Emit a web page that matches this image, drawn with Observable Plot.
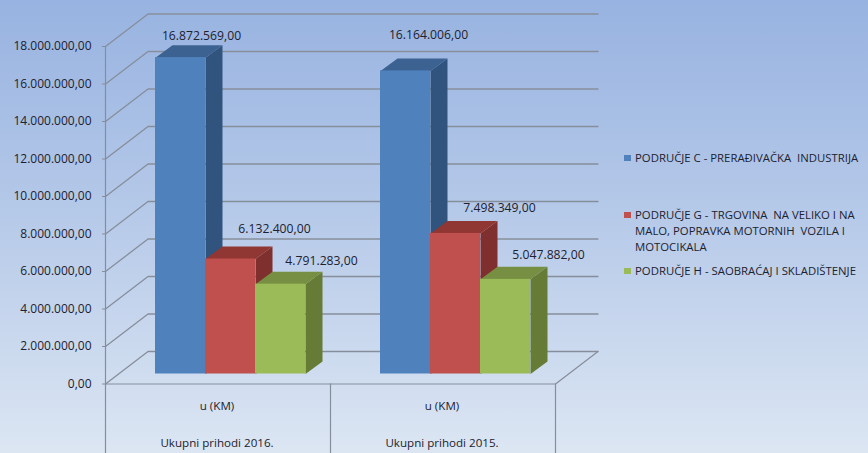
<!DOCTYPE html>
<html>
<head>
<meta charset="utf-8">
<script src="https://cdn.jsdelivr.net/npm/d3@7"></script>
<script src="https://cdn.jsdelivr.net/npm/@observablehq/plot@0.6"></script>
<style>
html,body{margin:0;padding:0;width:868px;height:453px;overflow:hidden}
body{position:relative;background:linear-gradient(180deg,#98b3e1 0%,#b4c8e8 45%,#dce6f3 100%);font-family:"Open Sans",sans-serif;color:#1c2230}
#chart svg{display:block}
#legend{position:absolute;left:624px;top:0;width:244px;font-size:11.35px;line-height:16px}
.item{position:absolute;left:0;padding-left:11px;width:231px}
.sw{position:absolute;left:0;top:5px;width:7px;height:6px}
</style>
</head>
<body>
<div id="chart"></div>
<div id="legend"></div>
<script>
// ---- data ----
const categories = ["u (KM)", "u (KM)"];
const groupLabels = ["Ukupni prihodi 2016.", "Ukupni prihodi 2015."];
const seriesNames = [
  "PODRUČJE C - PRERAĐIVAČKA  INDUSTRIJA",
  "PODRUČJE G - TRGOVINA  NA VELIKO I NA MALO, POPRAVKA MOTORNIH  VOZILA I MOTOCIKALA",
  "PODRUČJE H - SAOBRAĆAJ I SKLADIŠTENJE"
];
const seriesC = [16872569, 16164006];
const seriesG = [6132400, 7498349];
const seriesH = [4791283, 5047882];
const yTicks = [0, 2e6, 4e6, 6e6, 8e6, 10e6, 12e6, 14e6, 16e6, 18e6];

// ---- styles ----
const faceColors = [
  {front: "#4f81bd", side: "#31547f", top: "#3c6291"},
  {front: "#c0504d", side: "#7f2f2d", top: "#903633"},
  {front: "#9bbb59", side: "#657b36", top: "#778f42"}
];
const gridColor = "#868e9c";
const textColor = "#1c2230";

// ---- layout: pixel scale factors and depth of the 3D box ----
const pxX = 225, pxY = 337.5 / 18e6;            // pixels per category, per value unit
const toX = (p) => p / pxX, toY = (p) => p / pxY;
const wallX = toX(42.5), wallY = toY(32.5);     // depth of the chart box
const barX = toX(17), barY = toY(12.5);         // depth of a bar
const barW = 2 / 9;
const faceDx = 12.5, faceDy = -10;              // bars stand inside the box
const labelOffsets = [
  [[21, -9], [23, -23]],
  [[44, -17], [44, -13]],
  [[41, -11], [43, -12]]
];

const fmt = d3.formatLocale({decimal: ",", thousands: ".", grouping: [3], currency: ["", ""]}).format(",.2f");
const seriesValues = [seriesC, seriesG, seriesH];

// wall grid lines
const grid = yTicks.flatMap((t) => [
  {t, x: 0, y: t},
  {t, x: wallX, y: t + wallY},
  {t, x: 2 + wallX, y: t + wallY}
]);

const barMarks = seriesValues.flatMap((vals, k) => {
  const c = faceColors[k];
  const bars = vals.map((v, i) => {
    const x1 = i + 0.5 + (k - 1.5) * barW;
    return {i, v, x1, x2: x1 + barW};
  });
  const side = bars.flatMap((b) => [
    {i: b.i, x: b.x2, y: 0},
    {i: b.i, x: b.x2 + barX, y: barY},
    {i: b.i, x: b.x2 + barX, y: b.v + barY},
    {i: b.i, x: b.x2, y: b.v}
  ]);
  const top = bars.flatMap((b) => [
    {i: b.i, x: b.x1, y: b.v},
    {i: b.i, x: b.x1 + barX, y: b.v + barY},
    {i: b.i, x: b.x2 + barX, y: b.v + barY},
    {i: b.i, x: b.x2, y: b.v}
  ]);
  const face = {x: "x", y: "y", z: "i", stroke: "none", dx: faceDx, dy: faceDy};
  return [
    Plot.line(side, {...face, fill: c.side}),
    Plot.line(top, {...face, fill: c.top}),
    Plot.rect(bars, {x1: "x1", x2: "x2", y1: 0, y2: "v", fill: c.front, dx: faceDx, dy: faceDy})
  ];
});

const labelMarks = seriesValues.flatMap((vals, k) => vals.map((v, i) => {
  const x = i + 0.5 + (k - 1) * barW;
  return Plot.text([{x, v}], {
    x: "x", y: "v", text: (d) => fmt(d.v), fill: textColor, fontSize: 12.2,
    dx: faceDx + labelOffsets[k][i][0], dy: faceDy - 12.5 + labelOffsets[k][i][1]
  });
}));

const chart = Plot.plot({
  width: 868, height: 453,
  marginLeft: 105, marginRight: 0, marginTop: 0, marginBottom: 0,
  style: {background: "transparent", fontFamily: "'Open Sans',sans-serif", fontSize: "12px", color: textColor},
  x: {domain: [0, 2], range: [105, 555], axis: null},
  y: {domain: [0, 18e6], range: [383.5, 46], axis: null},
  marks: [
    Plot.line(grid, {x: "x", y: "y", z: "t", stroke: gridColor, strokeWidth: 1.3}),
    Plot.ruleY([0], {x1: 0, x2: 2, stroke: gridColor, strokeWidth: 1.2}),
    Plot.line([{x: 2, y: 0}, {x: 2 + wallX, y: wallY}], {x: "x", y: "y", stroke: gridColor, strokeWidth: 1.2}),
    Plot.ruleX([0], {y1: -4e6, y2: 18e6, stroke: gridColor, strokeWidth: 1.2}),
    Plot.ruleX([1, 2], {y1: -4e6, y2: 0, stroke: gridColor, strokeWidth: 1.2}),
    ...barMarks,
    ...labelMarks,
    Plot.axisY({
      anchor: "left", ticks: yTicks, tickFormat: fmt, tickSize: 3, tickPadding: 11,
      label: null, stroke: gridColor, fill: textColor, fontSize: 12
    }),
    Plot.text(categories.map((c, i) => ({c, x: i + 0.5})), {
      x: "x", text: "c", frameAnchor: "bottom", dx: -1, dy: -44, fill: textColor, fontSize: 11.6
    }),
    Plot.text(groupLabels.map((c, i) => ({c, x: i + 0.5})), {
      x: "x", text: "c", frameAnchor: "bottom", dx: -1, dy: -7, fill: textColor, fontSize: 11.6
    })
  ]
});
document.getElementById("chart").appendChild(chart);

// ---- legend ----
const legendTops = [150, 207, 263];
const legend = d3.select("#legend");
seriesNames.forEach((name, k) => {
  const item = legend.append("div").attr("class", "item").style("top", legendTops[k] + "px");
  item.append("span").attr("class", "sw").style("background", faceColors[k].front);
  item.append("span").style("white-space", "pre-wrap").text(name);
});
</script>
</body>
</html>
